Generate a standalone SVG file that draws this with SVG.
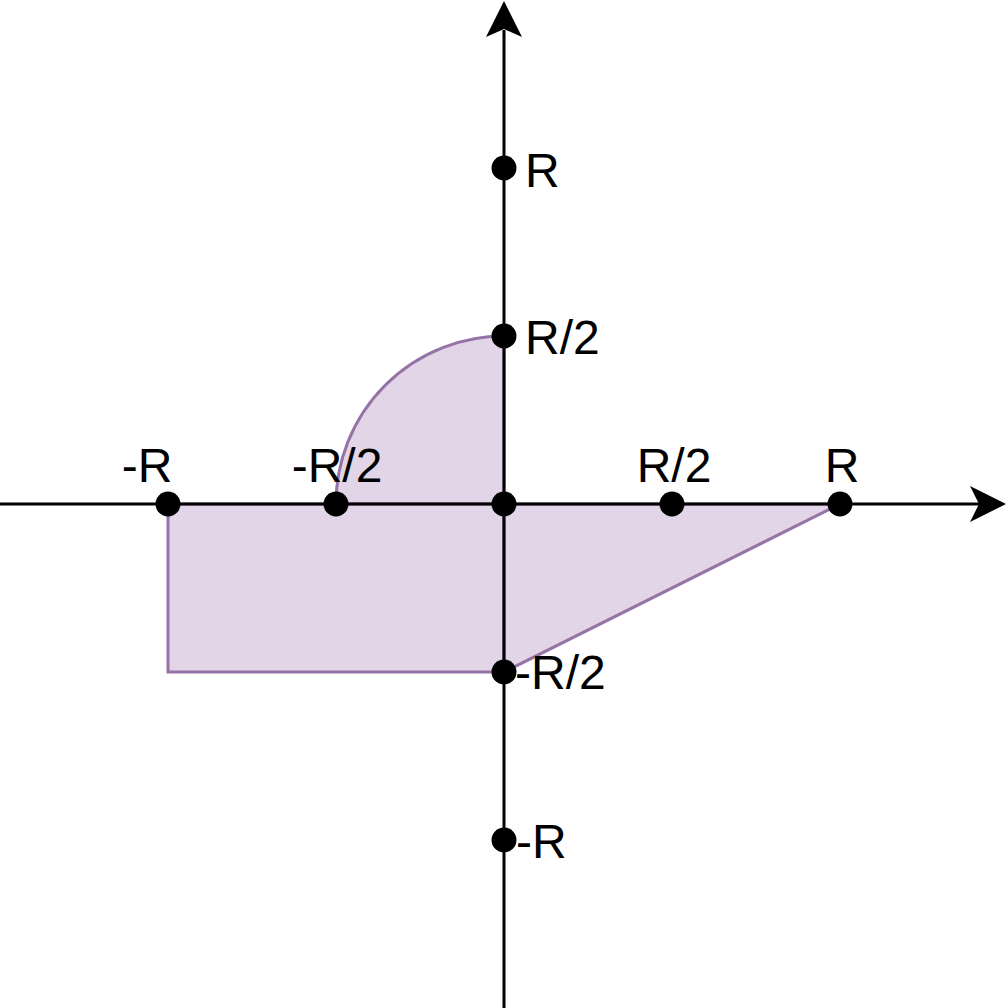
<svg xmlns="http://www.w3.org/2000/svg" width="1008" height="1008" viewBox="0 0 1008 1008">
<style>
.region{fill:#e1d5e7;stroke:#9673a6;stroke-width:3;stroke-linejoin:miter}
.axis{stroke:#000;stroke-width:3;fill:none}
.head{fill:#000;stroke:none}
.dot{fill:#000}
.lbl{font-family:"Liberation Sans",Arial,Helvetica,sans-serif;font-size:48px;fill:#000}
.mid{text-anchor:middle}
</style>
<rect width="1008" height="1008" fill="#fff"/>
<g id="region">
<path class="region" d="M336,504 A168,168 0 0 1 504,336 L504,504 Z"/>
<path class="region" d="M168,504 L504,504 L504,672 L168,672 Z"/>
<path class="region" d="M504,504 L840,504 L504,672 Z"/>
</g>
<g id="connectors">
<line class="axis" x1="0" y1="504" x2="982" y2="504"/>
<path class="head" d="M1006,504 L970,486 L979,504 L970,522 Z"/>
<line class="axis" x1="504" y1="1008" x2="504" y2="30"/>
<path class="head" d="M504,1 L486,37 L504,29 L522,37 Z"/>
</g>
<g id="points">
<g id="p-negR"><circle class="dot" cx="168" cy="504" r="12.5"/><text class="lbl mid" x="147" y="482">-R</text></g>
<g id="p-negR2"><circle class="dot" cx="336" cy="504" r="12.5"/><text class="lbl mid" x="337" y="482">-R/2</text></g>
<g id="p-origin"><circle class="dot" cx="504" cy="504" r="12.5"/></g>
<g id="p-R2x"><circle class="dot" cx="672" cy="504" r="12.5"/><text class="lbl mid" x="674" y="482">R/2</text></g>
<g id="p-Rx"><circle class="dot" cx="840" cy="504" r="12.5"/><text class="lbl mid" x="842" y="482">R</text></g>
<g id="p-Ry"><circle class="dot" cx="504" cy="168" r="12.5"/><text class="lbl" x="525" y="187">R</text></g>
<g id="p-R2y"><circle class="dot" cx="504" cy="336" r="12.5"/><text class="lbl" x="525" y="354">R/2</text></g>
<g id="p-negR2y"><circle class="dot" cx="504" cy="672" r="12.5"/><text class="lbl" x="515" y="689">-R/2</text></g>
<g id="p-negRy"><circle class="dot" cx="504" cy="840" r="12.5"/><text class="lbl" x="516" y="858">-R</text></g>
</g>
</svg>
